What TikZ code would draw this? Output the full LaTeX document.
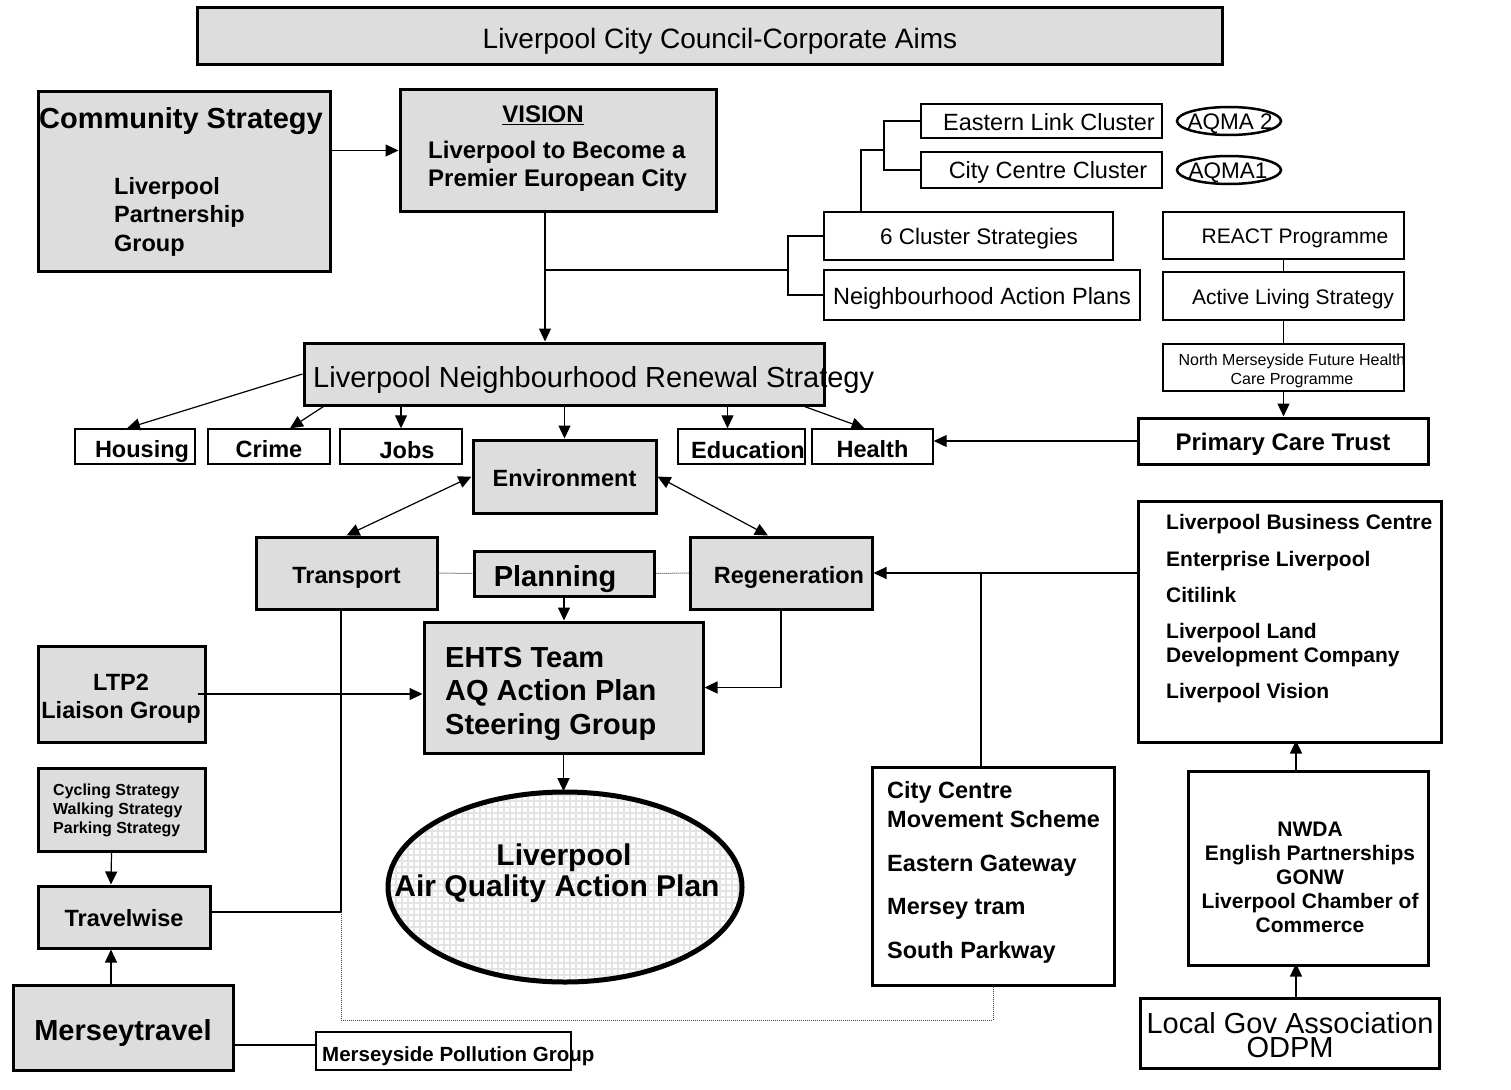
\documentclass[tikz,border=0pt]{standalone}
\usepackage{fontspec}
\setmainfont{Liberation Sans}
\usepackage{tikz}
\usetikzlibrary{shapes.geometric, arrows.meta, patterns.meta}
\definecolor{boxgrey}{RGB}{221,221,221}

\begin{document}
\begin{tikzpicture}[x=1pt, y=-1pt,
    greybox/.style={draw, line width=3pt, fill=boxgrey, inner sep=0pt},
    thinbox/.style={draw, line width=1.4pt, fill=white, inner sep=0pt},
    heavybox/.style={draw, line width=3pt, fill=white, inner sep=0pt},
    txt/.style={inner sep=0pt},
    conn/.style={line width=1.2pt},
    arr/.style={conn, -{Triangle[length=13pt, width=12pt]}},
    arrboth/.style={conn, {Triangle[length=13pt, width=12pt]}-{Triangle[length=13pt, width=12pt]}},
    dotline/.style={line width=1pt, dash pattern=on 1pt off 1pt, black!75}]
    \useasboundingbox (0,0) rectangle (1511,1089);

    % Corporate aims banner
    \node[greybox, minimum width=1025pt, minimum height=57pt] (aims) at (709.5,36.5) {};
    \node[txt, font=\fontsize{28}{28}\selectfont] (aimstext) at (720,41) {Liverpool City Council-Corporate Aims};

    % Community strategy and the vision
    \node[greybox, minimum width=292pt, minimum height=179pt] (comm) at (184,181.5) {};
    \node[txt, font=\bfseries\fontsize{29}{29}\selectfont] (commtitle) at (181,121) {Community Strategy};
    \node[txt, anchor=west, align=left, font=\bfseries\fontsize{23.5}{28.5}\selectfont] (commtext) at (114,216.5)
        {Liverpool\\Partnership\\Group};
    \node[greybox, minimum width=316pt, minimum height=121pt] (vision) at (558,150.5) {};
    \node[txt, font=\bfseries\fontsize{24}{24}\selectfont] (visiontitle) at (543,115) {\underline{VISION}};
    \node[txt, anchor=west, align=left, font=\bfseries\fontsize{24}{28}\selectfont] (visiontext) at (428,166)
        {Liverpool to Become a\\Premier European City};

    % Cluster strategies
    \node[thinbox, minimum width=289pt, minimum height=48pt] (clus6) at (968.5,236) {};
    \node[txt, font=\fontsize{22.5}{22.5}\selectfont] (clus6text) at (979,239) {6 Cluster Strategies};
    \node[thinbox, minimum width=316pt, minimum height=50pt, text height=18pt, text depth=0pt,
        font=\fontsize{23.5}{23.5}\selectfont] (nap) at (982,295) {Neighbourhood Action Plans};
    \node[thinbox, minimum width=241pt, minimum height=34pt] (elink) at (1041.5,121) {};
    \node[txt, font=\fontsize{23.5}{23.5}\selectfont] (elinktext) at (1049,122) {Eastern Link Cluster};
    \node[thinbox, minimum width=241pt, minimum height=36pt] (ccclus) at (1041.5,170) {};
    \node[txt, font=\fontsize{23.5}{23.5}\selectfont] (ccclustext) at (1048,172) {City Centre Cluster};
    \node[ellipse, draw, line width=2.5pt, minimum width=104pt, minimum height=28pt, inner sep=0pt] (aqma2) at (1229,121) {};
    \node[txt, font=\fontsize{22.5}{22.5}\selectfont] (aqma2text) at (1230,124) {AQMA 2};
    \node[ellipse, draw, line width=2.5pt, minimum width=104pt, minimum height=28pt, inner sep=0pt] (aqma1) at (1229,170) {};
    \node[txt, font=\fontsize{22.5}{22.5}\selectfont] (aqma1text) at (1228,173) {AQMA1};

    % Health column
    \node[thinbox, minimum width=241pt, minimum height=47pt] (react) at (1283.5,235.5) {};
    \node[txt, font=\fontsize{21}{21}\selectfont] (reacttext) at (1295,238) {REACT Programme};
    \node[thinbox, minimum width=241pt, minimum height=48pt] (active) at (1283.5,296) {};
    \node[txt, font=\fontsize{21}{21}\selectfont] (activetext) at (1293,299) {Active Living Strategy};
    \node[thinbox, minimum width=241pt, minimum height=47pt] (nmfh) at (1283.5,367.5) {};
    \node[txt, align=center, font=\fontsize{16}{19}\selectfont] (nmfhtext) at (1292,370.5)
        {North Merseyside Future Health\\Care Programme};
    \node[heavybox, minimum width=290pt, minimum height=46pt, text height=19pt, text depth=0pt,
        font=\bfseries\fontsize{24}{24}\selectfont] (pct) at (1283,441) {Primary Care Trust};

    % Neighbourhood renewal strategy and its themes
    \node[greybox, minimum width=520pt, minimum height=62pt] (nrs) at (564,374) {};
    \node[txt, anchor=west, font=\fontsize{29}{29}\selectfont] (nrstext) at (313,380) {Liverpool Neighbourhood Renewal Strategy};
    \node[thinbox, minimum width=120pt, minimum height=35pt] (housing) at (135,446.5) {};
    \node[txt, font=\bfseries\fontsize{23.5}{23.5}\selectfont] (housingtext) at (142,451) {Housing};
    \node[thinbox, minimum width=122pt, minimum height=35pt, text height=22pt, text depth=0pt,
        font=\bfseries\fontsize{23.5}{23.5}\selectfont] (crime) at (269,446.5) {Crime};
    \node[thinbox, minimum width=122pt, minimum height=35pt] (jobs) at (401,446.5) {};
    \node[txt, font=\bfseries\fontsize{23.5}{23.5}\selectfont] (jobstext) at (407,450) {Jobs};
    \node[thinbox, minimum width=127pt, minimum height=35pt] (educ) at (741.5,446.5) {};
    \node[txt, font=\bfseries\fontsize{23.5}{23.5}\selectfont] (eductext) at (748,450) {Education};
    \node[thinbox, minimum width=121pt, minimum height=35pt, text height=22pt, text depth=0pt,
        font=\bfseries\fontsize{23.5}{23.5}\selectfont] (health) at (872.5,446.5) {Health};

    % Environment, transport, planning, regeneration
    \node[greybox, minimum width=183pt, minimum height=73pt, text height=20pt, text depth=0pt,
        font=\bfseries\fontsize{23.5}{23.5}\selectfont] (env) at (564.5,476.5) {Environment};
    \node[greybox, minimum width=181pt, minimum height=72pt, text height=21pt, text depth=0pt,
        font=\bfseries\fontsize{23.5}{23.5}\selectfont] (transport) at (346.5,573) {Transport};
    \node[greybox, minimum width=180pt, minimum height=45pt] (planning) at (564,573.5) {};
    \node[txt, font=\bfseries\fontsize{29}{29}\selectfont] (planningtext) at (555,579) {Planning};
    \node[greybox, minimum width=182pt, minimum height=72pt] (regen) at (781,573) {};
    \node[txt, font=\bfseries\fontsize{23.5}{23.5}\selectfont] (regentext) at (789,577) {Regeneration};

    % Steering group and the action plan
    \node[greybox, minimum width=279pt, minimum height=131pt] (ehts) at (563.5,687.5) {};
    \node[txt, anchor=west, align=left, font=\bfseries\fontsize{29}{33.5}\selectfont] (ehtstext) at (445,693.5)
        {EHTS Team\\AQ Action Plan\\Steering Group};
    \node[ellipse, draw, line width=5pt, minimum width=354pt, minimum height=190pt, inner sep=0pt,
        preaction={pattern={Lines[angle=0, distance=6pt, line width=1.6pt]}, pattern color=gray!22},
        pattern={Lines[angle=90, distance=6pt, line width=1.6pt]}, pattern color=gray!22] (aqap) at (565,887) {};
    \node[txt, align=center, font=\bfseries\fontsize{30}{31}\selectfont] (aqaptext) at (557,873)
        {\hspace*{14pt}Liverpool\\Air Quality Action Plan};

    % Transport partners on the left
    \node[greybox, minimum width=167pt, minimum height=96pt] (ltp2) at (121.5,694) {};
    \node[txt, align=center, font=\bfseries\fontsize{23.5}{28}\selectfont] (ltp2text) at (121,699)
        {LTP2\\Liaison Group};
    \node[greybox, minimum width=167pt, minimum height=83pt] (cycling) at (121.5,809.5) {};
    \node[txt, anchor=west, align=left, font=\bfseries\fontsize{16}{19}\selectfont] (cyclingtext) at (53,810)
        {Cycling Strategy\\Walking Strategy\\Parking Strategy};
    \node[greybox, minimum width=172pt, minimum height=62pt, text height=19pt, text depth=0pt,
        font=\bfseries\fontsize{23.5}{23.5}\selectfont] (travelwise) at (124,917) {Travelwise};
    \node[greybox, minimum width=220pt, minimum height=85pt, text height=26pt, text depth=0pt,
        font=\bfseries\fontsize{29}{29}\selectfont] (merseytravel) at (123,1027.5) {Merseytravel};
    \node[heavybox, line width=2.2pt, minimum width=255pt, minimum height=38pt] (mpg) at (443.5,1051) {};
    \node[txt, anchor=west, font=\bfseries\fontsize{20.5}{20.5}\selectfont] (mpgtext) at (322,1056) {Merseyside Pollution Group};

    % Regeneration partners on the right
    \node[heavybox, minimum width=242pt, minimum height=218pt] (ccms) at (993,876) {};
    \node[txt, anchor=west, align=left, font=\bfseries\fontsize{23.5}{29}\selectfont] (ccmstext) at (887,872)
        {City Centre\\Movement Scheme\\[15pt]Eastern Gateway\\[14pt]Mersey tram\\[15pt]South Parkway};
    \node[heavybox, minimum width=303pt, minimum height=241pt] (business) at (1289.5,621.5) {};
    \node[txt, anchor=west, align=left, font=\bfseries\fontsize{21}{24}\selectfont] (businesstext) at (1166,608.5)
        {Liverpool Business Centre\\[13pt]Enterprise Liverpool\\[12pt]Citilink\\[12pt]Liverpool Land\\Development Company\\[12pt]Liverpool Vision};
    \node[heavybox, minimum width=240pt, minimum height=194pt] (nwda) at (1308,868) {};
    \node[txt, align=center, font=\bfseries\fontsize{21}{24}\selectfont] (nwdatext) at (1310,877)
        {NWDA\\English Partnerships\\GONW\\Liverpool Chamber of\\Commerce};
    \node[heavybox, minimum width=299pt, minimum height=70pt] (lga) at (1289.5,1033) {};
    \node[txt, align=center, font=\fontsize{29}{24}\selectfont] (lgatext) at (1290,1035)
        {Local Gov Association\\ODPM};

    % Junctions of the connectors
    \coordinate (vjoin) at (545,270);
    \coordinate (bjoin) at (788,270);
    \coordinate (cup) at (861,150);
    \coordinate (cjoin) at (884,150);
    \coordinate (tjoin) at (341,912);
    \coordinate (dotbase) at (341,1020);
    \coordinate (rjoin) at (981,573);

    % Connectors from the top of the plan
    \draw[arr] (comm.east |- vision.west) -- (vision.west);
    \draw[arr] (vision.south -| vjoin) -- (nrs.north -| vjoin);
    \draw[conn] (vjoin) -- (bjoin);
    \draw[conn] (clus6.west) -| (bjoin) |- (nap.west);
    \draw[conn] (clus6.north -| cup) -- (cup) -- (cjoin);
    \draw[conn] (elink.west) -| (cjoin) |- (ccclus.west);
    \draw[conn] (react.south) -- (active.north);
    \draw[conn] (active.south) -- (nmfh.north);
    \draw[arr] (nmfh.south) -- (nmfh.south |- pct.north);
    \draw[arr] (pct.west) -- (pct.west -| health.east);

    % Themes of the renewal strategy
    \draw[arr] (nrs.west) -- ([xshift=-8pt]housing.north);
    \draw[arr] ([xshift=21pt]nrs.south west) -- ([xshift=21pt]crime.north);
    \draw[arr] (nrs.south -| jobs.north) -- (jobs.north);
    \draw[arr] (nrs.south -| env.north) -- (env.north);
    \draw[arr] (educ.north) ++(-14,-24) -- ++(0,24);
    \draw[arr] ([xshift=-21pt]nrs.south east) -- ([xshift=-8pt]health.north);
    \draw[arrboth] (env.west) -- (transport.north);
    \draw[arrboth] (env.east) -- ([xshift=-13pt]regen.north);
    \draw[dotline] (transport.east) -- (planning.west);
    \draw[dotline] (planning.east) -- (regen.west);

    % Into the steering group and the plan
    \draw[arr] (planning.south) -- (planning.south |- ehts.north);
    \draw[arr] (regen.south) |- (ehts.east);
    \draw[arr] ([xshift=-9pt]ltp2.east) -- (ltp2.east -| ehts.west);
    \draw[arr] (ehts.south) -- (ehts.south |- aqap.north);
    \draw[conn] (transport.south -| tjoin) -- (tjoin) -- (tjoin -| travelwise.east);
    \draw[dotline] (tjoin) -- (dotbase) -| (ccms.south);
    \draw[arr] ([xshift=-10pt]cycling.south) -- ([xshift=-13pt]travelwise.north);
    \draw[arr] ([xshift=-12pt]merseytravel.north) -- ([xshift=-13pt]travelwise.south);
    \draw[conn] ([yshift=6pt]mpg.west) -- ++(-83,0);

    % Regeneration partners
    \draw[arr] (business.west |- regen.east) -- (regen.east);
    \draw[conn] (ccms.north -| rjoin) -- (rjoin);
    \draw[arr] ([xshift=-12pt]nwda.north) -- ++(0,-29);
    \draw[arr] ([xshift=6.5pt]lga.north) -- ++(0,-33);
\end{tikzpicture}
\end{document}
